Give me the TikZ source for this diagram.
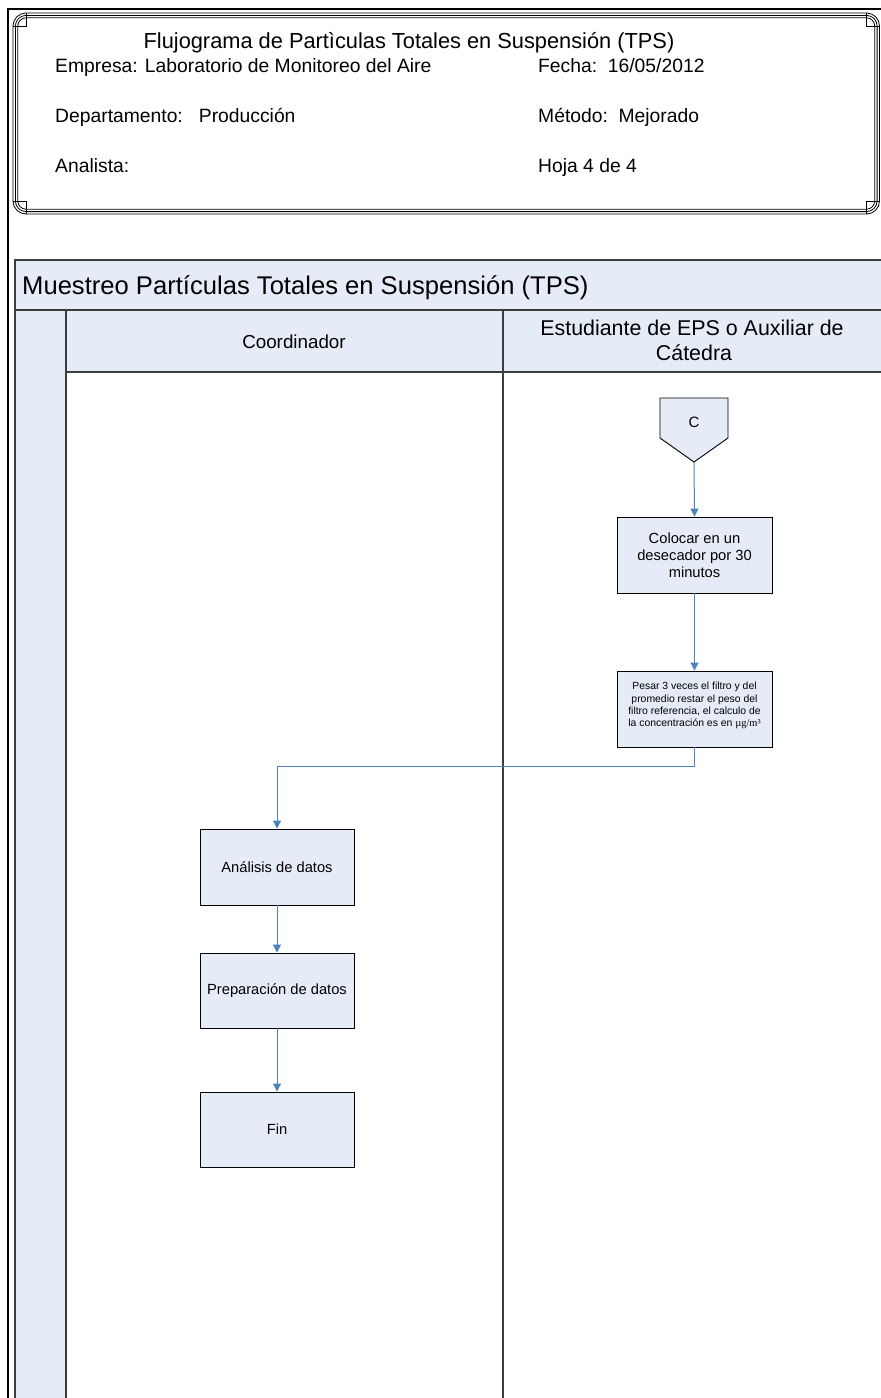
\documentclass[tikz,border=0pt]{standalone}
\usepackage{fontspec}
\setmainfont{Liberation Sans}
\usetikzlibrary{arrows.meta}
\definecolor{lanefill}{RGB}{230,236,247}
\definecolor{flowblue}{RGB}{79,129,189}
\definecolor{laneline}{RGB}{60,60,60}

\begin{document}
\begin{tikzpicture}[x=1pt,y=-1pt,
  stepbox/.style={draw=black, fill=lanefill, line width=0.9pt, minimum width=154pt,
    minimum height=76pt, align=center, inner sep=2pt, font=\fontsize{14.7}{17}\selectfont},
  smalltext/.style={align=center, inner sep=0pt, font=\fontsize{10.4}{12.2}\selectfont},
  flow/.style={draw=flowblue, line width=1pt, -{Triangle[length=8pt,width=8pt]}},
  hdr/.style={anchor=base west, inner sep=0pt, font=\fontsize{19.3}{23}\selectfont},
  lanetitle/.style={anchor=base, inner sep=0pt, align=center},
  frameline/.style={draw=black, line width=0.8pt},
  laneedge/.style={draw=laneline, line width=1.4pt}]
\useasboundingbox (0,0) rectangle (881,1398);
\clip (0,0) rectangle (881,1398);

% page frame
\draw[black, line width=2pt] (7.5,1420) -- (7.5,8.5) -- (900,8.5);

% header box: triple ruled border with corner ornaments
\foreach \d/\r in {0/13,2.4/10.6,4.8/8.2}{
  \draw[frameline, rounded corners=\r pt] (13+\d,13+\d) rectangle (879.5-\d,214-\d);
}
\foreach \cx/\cy/\sx/\sy in {13/13/1/1, 879.5/13/-1/1, 13/214/1/-1, 879.5/214/-1/-1}{
  \draw[frameline] (\cx+\sx*13,\cy) -- (\cx+\sx*13,\cy+\sy*13) -- (\cx,\cy+\sy*13);
}

% header texts
\node[anchor=base, inner sep=0pt, font=\fontsize{21.8}{26}\selectfont] (title) at (409,48) {Flujograma de Partìculas Totales en Suspensión (TPS)};
\node[hdr] (empresa) at (55,72) {Empresa: Laboratorio de Monitoreo del Aire};
\node[hdr] (fecha) at (538,72) {Fecha:\ \ 16/05/2012};
\node[hdr] (depto) at (55,122) {Departamento:\ \ \ Producción};
\node[hdr] (metodo) at (538,122) {Método:\ \ Mejorado};
\node[hdr] (analista) at (55,172) {Analista:};
\node[hdr] (hoja) at (538,172) {Hoja 4 de 4};

% pool with title band, lane header band and left strip
\draw[laneedge, fill=lanefill] (15,260) rectangle (900,1420);
\fill[white] (66,372) rectangle (900,1420);
\draw[laneedge] (15,310) -- (900,310);
\draw[laneedge] (66,372) -- (900,372);
\draw[laneedge] (66,310) -- (66,1420);
\draw[laneedge] (503,310) -- (503,1420);
\draw[laneedge] (15,260) -- (15,1420);

\node[anchor=base west, inner sep=0pt, font=\fontsize{25.6}{30}\selectfont] (pool) at (22,294) {Muestreo Partículas Totales en Suspensión (TPS)};
\node[lanetitle, font=\fontsize{18.8}{22}\selectfont] (coord) at (294,348) {Coordinador};
\node[lanetitle, font=\fontsize{21.4}{25}\selectfont] (est1) at (692,335) {Estudiante de EPS o Auxiliar de};
\node[lanetitle, font=\fontsize{21.4}{25}\selectfont] (est2) at (694,360) {Cátedra};

% off-page connector C
\draw[black, line width=0.9pt, fill=lanefill] (660,398) -- (728,398) -- (728,438) -- (694,462) -- (660,438) -- cycle;
\node[font=\fontsize{15}{17}\selectfont] (clabel) at (694,422) {C};
\coordinate (ctip) at (694,462);

% process steps
\node[stepbox, minimum width=155pt] (colocar) at (694.5,555) {Colocar en un\\desecador por 30\\minutos};
\node[stepbox, minimum width=155pt] (pesar) at (694.5,709) {};
\node[smalltext] (pesartxt) at (694.5,705.5) {Pesar 3 veces el filtro y del\\promedio restar el peso del\\filtro referencia, el calculo de\\la concentración es en {\fontspec{Liberation Serif}µg/m³}};
\node[stepbox] (analisis) at (277,867) {Análisis de datos};
\node[stepbox, minimum height=75pt] (prep) at (277,990.5) {Preparación de datos};
\node[stepbox, minimum height=75pt] (fin) at (277,1129.5) {Fin};

% flow
\draw[flow] (ctip) -- (colocar.north);
\draw[flow] (colocar.south) -- (pesar.north);
\draw[flow] (pesar.south) -- ++(0,19) -| (analisis.north);
\draw[flow] (analisis.south) -- (prep.north);
\draw[flow] (prep.south) -- (fin.north);
\end{tikzpicture}
\end{document}
